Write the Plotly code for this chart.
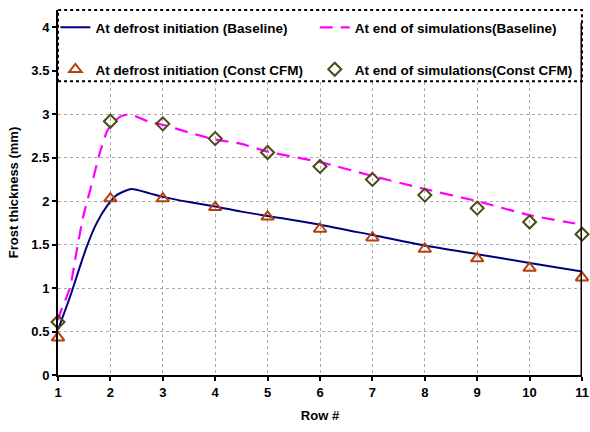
import plotly.graph_objects as go

rows = list(range(1, 12))
tri_const = [0.43, 2.03, 2.03, 1.93, 1.82, 1.68, 1.58, 1.45, 1.34, 1.23, 1.12]
dia_const = [0.61, 2.92, 2.89, 2.72, 2.56, 2.40, 2.25, 2.07, 1.92, 1.76, 1.62]

base_def_x = [1, 1.23, 1.42, 1.55, 1.74, 1.93, 2.12, 2.4, 2.75, 3, 3.5, 4, 4.5, 5, 6, 7, 8, 9, 10, 11]
base_def_y = [0.52, 0.90, 1.25, 1.48, 1.75, 1.94, 2.07, 2.14, 2.09, 2.05, 1.99, 1.94, 1.88, 1.83, 1.73, 1.61, 1.49, 1.39, 1.29, 1.19]
base_end_x = [1, 1.04, 1.23, 1.36, 1.48, 1.65, 1.8, 1.95, 2.18, 2.37, 2.75, 3, 3.5, 4, 4.5, 5, 6, 7, 8, 9, 10, 11]
base_end_y = [0.63, 0.71, 1.01, 1.44, 1.82, 2.21, 2.56, 2.82, 2.97, 3.0, 2.91, 2.88, 2.79, 2.71, 2.66, 2.57, 2.45, 2.29, 2.14, 2.0, 1.84, 1.73]

y_ticks = [0, 0.5, 1, 1.5, 2, 2.5, 3, 3.5, 4]
y_tick_labels = ["0", "0.5", "1", "1.5", "2", "2.5", "3", "3.5", "4"]

FONT = "Liberation Sans, Arial, sans-serif"

fig = go.Figure()
fig.add_trace(go.Scatter(x=base_def_x, y=base_def_y, mode="lines", line=dict(color="#000080", width=2, shape="spline", smoothing=0.6),
                         name="At defrost initiation (Baseline)", legend="legend"))
fig.add_trace(go.Scatter(x=base_end_x, y=base_end_y, mode="lines", line=dict(color="#ff00ff", width=2.2, shape="spline", smoothing=0.6, dash="13px,8px"),
                         name="At end of simulations(Baseline)", legend="legend2"))
fig.add_trace(go.Scatter(x=rows, y=tri_const, mode="markers",
                         marker=dict(symbol="triangle-up-open", size=11, color="#b5410f", line=dict(width=2, color="#b5410f")),
                         name="At defrost initiation (Const CFM)", legend="legend3", cliponaxis=False))
fig.add_trace(go.Scatter(x=rows, y=dia_const, mode="markers",
                         marker=dict(symbol="diamond-open", size=10, color="#4a4a12", line=dict(width=2, color="#4a4a12")),
                         name="At end of simulations(Const CFM)", legend="legend4", cliponaxis=False))

# legend box (white fill, dotted border)
fig.add_shape(type="rect", xref="paper", yref="paper", x0=0, x1=1, y0=0.805, y1=1.0,
              fillcolor="white", line=dict(color="black", width=2, dash="dot"), layer="above")
# right border line
fig.add_shape(type="line", xref="x", yref="y", x0=11, x1=11, y0=0, y1=4.05,
              line=dict(color="black", width=3), layer="above")

def leg(x, y):
    return dict(orientation="v", xanchor="left", x=x, yanchor="middle", y=y, bgcolor="rgba(0,0,0,0)",
                font=dict(family=FONT, size=13.5, color="black", weight="bold"), borderwidth=0,
                itemwidth=30)

fig.update_layout(
    width=590, height=432,
    margin=dict(l=58, r=8, t=10, b=57),
    paper_bgcolor="white", plot_bgcolor="white",
    showlegend=True,
    legend=leg(-0.005, 0.952),
    legend2=leg(0.49, 0.952),
    legend3=leg(-0.005, 0.837),
    legend4=leg(0.49, 0.837),
    font=dict(family=FONT, color="black"),
)
fig.update_xaxes(range=[1, 11], tickvals=rows, ticktext=[str(r) for r in rows], ticklabeloverflow="allow", automargin=False,
                 showline=True, linecolor="black", linewidth=2, ticks="outside", ticklen=4, tickcolor="black", tickwidth=2,
                 showgrid=True, gridcolor="#aaaaaa", gridwidth=1, griddash="dot", zeroline=False,
                 tickfont=dict(family=FONT, size=13, weight="bold"),
                 title=dict(text="Row #", font=dict(family=FONT, size=13, weight="bold"), standoff=12))
fig.update_yaxes(range=[0, 4.2], tickvals=y_ticks, ticktext=y_tick_labels, automargin=False,
                 showline=True, linecolor="black", linewidth=2, ticks="outside", ticklen=4, tickcolor="black", tickwidth=2,
                 showgrid=True, gridcolor="#aaaaaa", gridwidth=1, griddash="dot", zeroline=False,
                 tickfont=dict(family=FONT, size=13, weight="bold"),
                 title=dict(text="Frost thickness (mm)", font=dict(family=FONT, size=13, weight="bold"), standoff=10))

fig.write_html("out.html")
